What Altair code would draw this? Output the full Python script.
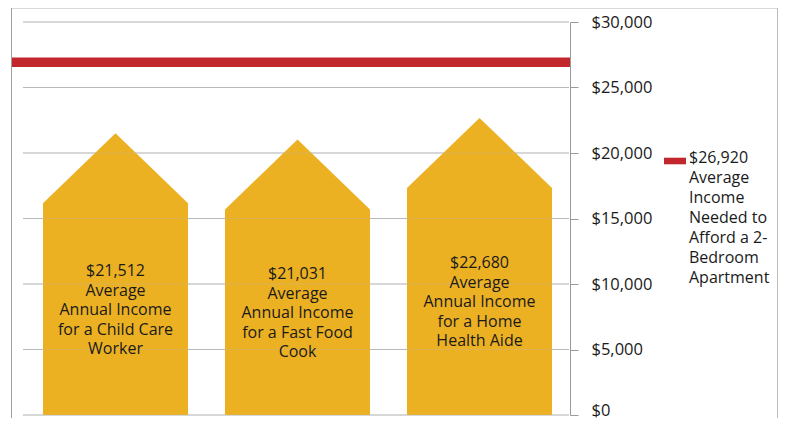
import altair as alt
import pandas as pd

# ---------------- data ----------------
jobs = ["Child Care Worker", "Fast Food Cook", "Home Health Aide"]
incomes = [21512, 21031, 22680]
bar_labels = [
    "$21,512\nAverage\nAnnual Income\nfor a Child Care\nWorker",
    "$21,031\nAverage\nAnnual Income\nfor a Fast Food\nCook",
    "$22,680\nAverage\nAnnual Income\nfor a Home\nHealth Aide",
]
needed_value = 26920
needed_label = "\u2002$26,920\nAverage\nIncome\nNeeded to\nAfford a 2-\nBedroom\nApartment"
tick_values = [0, 5000, 10000, 15000, 20000, 25000, 30000]

# ---------------- shape constants (style) ----------------
HALF = 0.3984   # half width of a house, in category units
ROOF = 5350     # roof height, in value units

house_rows = []
text_rows = []
for i, (job, v, lab) in enumerate(zip(jobs, incomes, bar_labels)):
    shoulder = v - ROOF
    house_rows += [
        {"job": job, "x": i - HALF, "y": shoulder},
        {"job": job, "x": i, "y": v},
        {"job": job, "x": i + HALF, "y": shoulder},
    ]
    text_rows.append({"job": job, "x": i, "y": shoulder / 2, "label": lab})

houses = pd.DataFrame(house_rows)
texts = pd.DataFrame(text_rows)
grid = pd.DataFrame({"v": tick_values})
needed = pd.DataFrame({"v": [needed_value], "label": [needed_label]})
one = pd.DataFrame({"a": [0]})

W, H = 767, 410
xs = alt.Scale(domain=[-0.5, 2.5], range=[13.5, 559.5], nice=False, zero=False)
ys = alt.Scale(domain=[0, 30000], range=[407, 14], nice=False, zero=False)

FONT = "Open Sans"

y_axis = alt.Axis(
    orient="right", offset=-208, values=tick_values, format="$,.0f",
    grid=False, title=None, domainColor="#9a9a9a", tickColor="#9a9a9a",
    tickSize=8, labelPadding=13, labelFont=FONT, labelFontSize=16.5,
    labelColor="#1a1a1a", domainWidth=1, tickWidth=1,
    labelOffset={"condition": {"test": "datum.value == 0", "value": -5}, "value": 0},
)

grid_under = alt.Chart(grid).mark_rule(color="#b9b9b9", strokeWidth=1).encode(
    y=alt.Y("v:Q", scale=ys, axis=y_axis),
    x=alt.value(12), x2=alt.value(558),
)

house_layer = alt.Chart(houses).mark_area(color="#ECB123", opacity=1).encode(
    x=alt.X("x:Q", scale=xs, axis=None),
    y=alt.Y("y:Q", scale=ys, axis=y_axis),
    y2=alt.datum(0),
    detail="job:N",
)

grid_over = alt.Chart(grid).mark_rule(color="#b9b9b9", strokeWidth=1, opacity=0.3).encode(
    y=alt.Y("v:Q", scale=ys, axis=y_axis),
    x=alt.value(12), x2=alt.value(558),
)

text_layer = alt.Chart(texts).mark_text(
    font=FONT, fontSize=16, lineHeight=19.5, lineBreak="\n",
    align="center", baseline="middle", color="#1a1a1a", dy=-38,
).encode(
    x=alt.X("x:Q", scale=xs, axis=None),
    y=alt.Y("y:Q", scale=ys, axis=y_axis),
    text="label:N",
)

needed_layer = alt.Chart(needed).mark_rule(strokeWidth=9.5).encode(
    y=alt.Y("v:Q", scale=ys, axis=y_axis),
    x=alt.value(0), x2=alt.value(559),
    color=alt.Color("label:N", scale=alt.Scale(range=["#C1272D"]), legend=alt.Legend(
        orient="none", legendX=653, legendY=142, title=None,
        symbolType="M-1,-0.3L1,-0.3L1,0.3L-1,0.3Z", symbolSize=484,
        symbolFillColor="#C1272D", symbolStrokeColor="#C1272D", symbolStrokeWidth=0,
        labelExpr="''", padding=0,
    )),
)

legend_text = alt.Chart(needed).mark_text(
    font=FONT, fontSize=16, lineHeight=20, lineBreak="\n",
    align="left", baseline="middle", color="#1a1a1a",
).encode(
    x=alt.value(678), y=alt.value(150), text="label:N",
)

frame_top = alt.Chart(one).mark_rule(color="#d9d9d9", strokeWidth=2).encode(
    y=alt.value(0), x=alt.value(0), x2=alt.value(W))
frame_left = alt.Chart(one).mark_rule(color="#a0a0a0", strokeWidth=1).encode(
    x=alt.value(0.5), y=alt.value(0), y2=alt.value(H))
frame_right = alt.Chart(one).mark_rule(color="#bdbdbd", strokeWidth=1).encode(
    x=alt.value(W - 0.5), y=alt.value(0), y2=alt.value(H))

chart = alt.layer(
    grid_under, house_layer, grid_over, text_layer, needed_layer, legend_text,
    frame_top, frame_left, frame_right,
).properties(
    width=W, height=H,
    autosize=alt.AutoSizeParams(type="none"),
    padding={"left": 3, "top": 0, "right": 0, "bottom": 0},
    background="white",
).configure_view(stroke=None)

chart.save("out.html", embed_options={"renderer": "svg", "actions": False})
